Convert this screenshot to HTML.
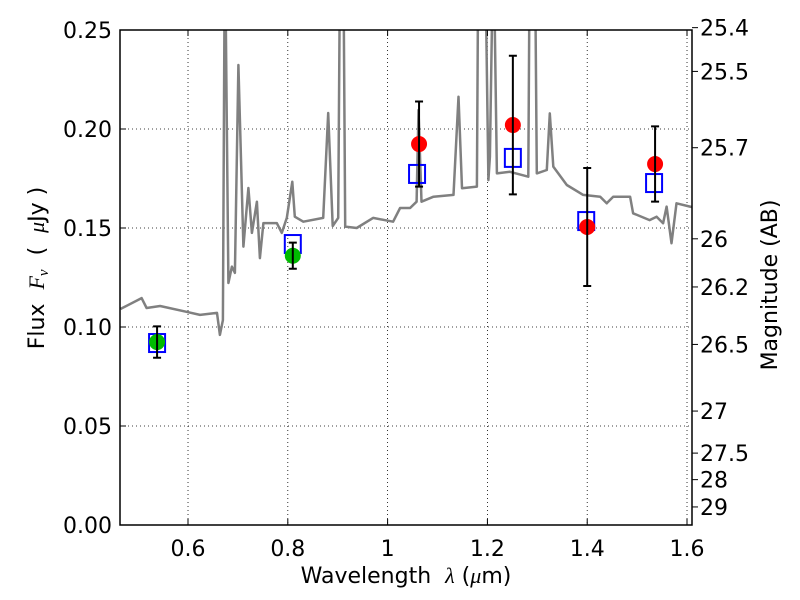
<!DOCTYPE html>
<html><head><meta charset="utf-8"><style>
body{margin:0;background:#fff}
svg{display:block;font-family:"DejaVu Sans","Liberation Sans",sans-serif}
</style></head><body>
<svg id="chart" width="800" height="600" viewBox="0 0 800 600">
<defs><clipPath id="clip"><rect x="120" y="30" width="572" height="495"/></clipPath></defs>
<rect x="0" y="0" width="800" height="600" fill="#fff"/>
<g id="grid"></g>
<g id="spec" clip-path="url(#clip)"></g>
<g id="marks"></g>
<g id="axes"></g>
<text x="406" y="583" text-anchor="middle" font-size="22" xml:space="preserve">Wavelength  <tspan font-style="italic" font-family="Liberation Serif, serif">λ</tspan> (<tspan font-style="italic" font-family="Liberation Serif, serif">μ</tspan>m)</text>
<text transform="translate(44,268) rotate(-90)" text-anchor="middle" font-size="22" xml:space="preserve">Flux  <tspan font-style="italic" font-family="Liberation Serif, serif">F<tspan font-size="15" dy="4">ν</tspan></tspan><tspan dy="-4">  (  </tspan><tspan font-style="italic" font-family="Liberation Serif, serif">μ</tspan>Jy )</text>
<text transform="translate(777,285) rotate(-90)" text-anchor="middle" font-size="22">Magnitude (AB)</text>
</svg>
<script>
const specLambda=[0.465,0.467,0.507,0.517,0.544,0.597,0.624,0.658,0.664,0.670,0.674,0.681,0.688,0.694,0.701,0.711,0.721,0.728,0.738,0.744,0.751,0.778,0.788,0.798,0.809,0.814,0.831,0.871,0.881,0.890,0.901,0.905,0.911,0.915,0.938,0.971,1.011,1.025,1.045,1.058,1.062,1.068,1.092,1.132,1.142,1.149,1.179,1.182,1.195,1.202,1.205,1.212,1.219,1.245,1.282,1.285,1.295,1.299,1.319,1.325,1.332,1.359,1.392,1.426,1.439,1.452,1.486,1.492,1.525,1.539,1.552,1.559,1.569,1.579,1.606,1.62];
const specFlux=[0.109,0.1094,0.1146,0.1096,0.1106,0.1077,0.1061,0.1071,0.0960,0.1035,0.30,0.1222,0.1305,0.1273,0.2323,0.1406,0.1702,0.1475,0.1633,0.1348,0.1525,0.1525,0.1475,0.1551,0.1734,0.1557,0.1532,0.1551,0.2081,0.1510,0.1551,0.30,0.30,0.1507,0.1500,0.1551,0.1532,0.1601,0.1601,0.1633,0.2096,0.1633,0.1658,0.1667,0.2163,0.1701,0.1709,0.30,0.30,0.1742,0.1860,0.30,0.1776,0.1784,0.1759,0.30,0.30,0.1776,0.1793,0.2079,0.1810,0.1717,0.1667,0.1658,0.1625,0.1658,0.1658,0.1574,0.1540,0.1557,0.1524,0.1608,0.1423,0.1625,0.1608,0.160];
const modelLambda=[0.538,0.810,1.059,1.251,1.398,1.534];
const modelFlux=[0.0919,0.1419,0.1773,0.1854,0.1535,0.1727];
const obsLambda=[0.538,0.810,1.063,1.251,1.400,1.536];
const obsFlux=[0.0924,0.1360,0.1924,0.2020,0.1505,0.1823];
const obsErr=[0.0079,0.0066,0.0215,0.0350,0.0298,0.0190];
const obsColor=['#00bb00','#00bb00','#ff0000','#ff0000','#ff0000','#ff0000'];
const xTicks=[0.6,0.8,1.0,1.2,1.4,1.6];
const xTickLabels=['0.6','0.8','1','1.2','1.4','1.6'];
const yTicks=[0,0.05,0.10,0.15,0.20,0.25];
const yTickLabels=['0.00','0.05','0.10','0.15','0.20','0.25'];
const magTicks=[25.4,25.5,25.7,26,26.2,26.5,27,27.5,28,29];
const magTickLabels=['25.4','25.5','25.7','26','26.2','26.5','27','27.5','28','29'];

const L=120,R=692,T=30,B=525;
const xmin=0.4637,xmax=1.6100,ymin=0,ymax=0.25;
const X=v=>L+(v-xmin)/(xmax-xmin)*(R-L);
const Y=v=>B-(v-ymin)/(ymax-ymin)*(B-T);
const NS='http://www.w3.org/2000/svg';
function mk(tag,attrs,parent){const e=document.createElementNS(NS,tag);for(const k in attrs)e.setAttribute(k,attrs[k]);parent.appendChild(e);return e;}
const grid=document.getElementById('grid'),spec=document.getElementById('spec'),marks=document.getElementById('marks'),axes=document.getElementById('axes');

xTicks.forEach((t,i)=>{
  const x=X(t);
  const g=mk('line',{x1:x,x2:x,y1:T,y2:B,stroke:'#000','stroke-width':0.8,'stroke-dasharray':'1,3'},grid);
  
  
  const a=mk('line',{x1:x,x2:x,y1:B,y2:B-6,stroke:'#000','stroke-width':1},axes);
  
  
  const b=mk('line',{x1:x,x2:x,y1:T,y2:T+6,stroke:'#000','stroke-width':1},axes);
  
  
  const lb=mk('text',{x:x,y:B+31,'text-anchor':'middle','font-size':22},axes);
  lb.textContent=xTickLabels[i];
  
  
});
yTicks.forEach((t,i)=>{
  const y=Y(t);
  const g=mk('line',{x1:L,x2:R,y1:y,y2:y,stroke:'#000','stroke-width':0.8,'stroke-dasharray':'1,3'},grid);
  
  
  const a=mk('line',{x1:L,x2:L+6,y1:y,y2:y,stroke:'#000','stroke-width':1},axes);
  
  
  const lb=mk('text',{x:L-8,y:y+8,'text-anchor':'end','font-size':22},axes);
  lb.textContent=yTickLabels[i];
  
  
});
magTicks.forEach((m,i)=>{
  const y=Y(Math.pow(10,(23.9-m)/2.5));
  const a=mk('line',{x1:R,x2:R+6,y1:y,y2:y,stroke:'#000','stroke-width':1},axes);
  
  
  const lb=mk('text',{x:R+8,y:y+8,'text-anchor':'start','font-size':22},axes);
  lb.textContent=magTickLabels[i];
  
  
});

const pts=specLambda.map((l,i)=>X(l).toFixed(1)+','+Y(specFlux[i]).toFixed(1)).join(' ');
const pl=mk('polyline',{points:pts,fill:'none',stroke:'#808080','stroke-width':2.5,'stroke-linejoin':'round'},spec);



modelLambda.forEach((l,i)=>{
  const x=X(l),y=Y(modelFlux[i]);
  const r=mk('rect',{x:x-8,y:y-9,width:16,height:18,fill:'none',stroke:'#0000ff','stroke-width':2},marks);
  
  
});
obsLambda.forEach((l,i)=>{
  const x=X(l),y=Y(obsFlux[i]);
  const c=mk('circle',{cx:x,cy:y,r:8,fill:obsColor[i]},marks);
  
  
  const y1=Y(obsFlux[i]+obsErr[i]),y2=Y(obsFlux[i]-obsErr[i]);
  const e=mk('path',{d:`M${x},${y1}V${y2}M${x-4},${y1}H${x+4}M${x-4},${y2}H${x+4}`,stroke:'#000','stroke-width':2,fill:'none'},marks);
  
  
});
const fr=mk('rect',{x:L,y:T,width:R-L,height:B-T,fill:'none',stroke:'#000','stroke-width':1.5},axes);


</script>
</body></html>
